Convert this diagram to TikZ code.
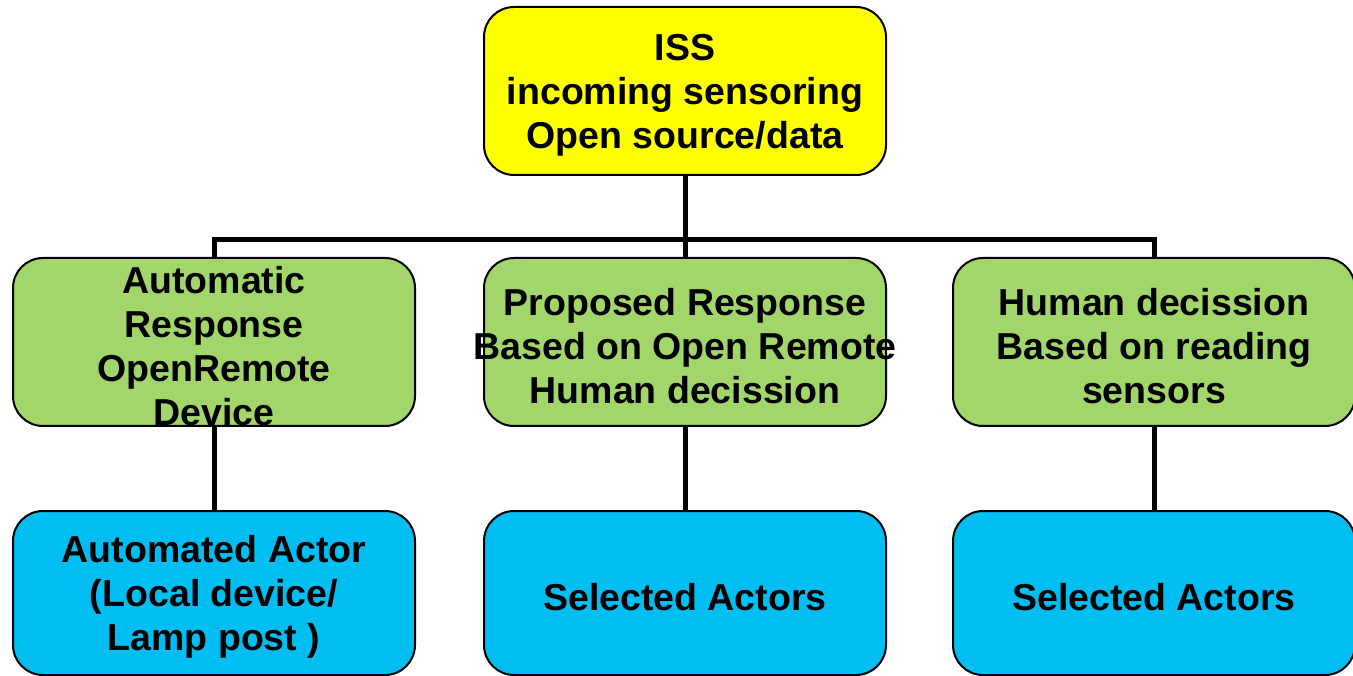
\documentclass[tikz,border=0pt]{standalone}
\usepackage{fontspec}
\setmainfont{Liberation Sans}
\definecolor{issyellow}{HTML}{FFFF00}
\definecolor{respgreen}{HTML}{A2D66A}
\definecolor{actorblue}{HTML}{00BEF2}
\begin{document}
\begin{tikzpicture}[x=1pt,y=-1pt,
    box/.style={draw,rounded corners=30pt,line width=2pt,minimum width=402pt,minimum height=168pt,inner sep=0pt},
    txt/.style={align=center,yshift=-4pt,font=\fontsize{37.5}{44}\selectfont\bfseries},
    conn/.style={line width=5pt}]
        \useasboundingbox (0,0) rectangle (1353,676);

        % boxes
        \node[box, fill=issyellow] at (685, 91) (iss) {};
        \node[box, fill=respgreen] at (214, 342) (auto) {};
        \node[box, fill=respgreen] at (685, 342) (prop) {};
        \node[box, fill=respgreen] at (1154, 342) (human) {};
        \node[box, fill=actorblue, minimum height=164pt] at (214, 593) (autoact) {};
        \node[box, fill=actorblue, minimum height=164pt] at (685, 593) (selA) {};
        \node[box, fill=actorblue, minimum height=164pt] at (1154, 593) (selB) {};

        % texts
        \node[txt] at (iss) (isst) {ISS\\incoming sensoring\\Open source/data};
        \node[txt] at (auto) (autot) {Automatic\\Response\\OpenRemote\\Device};
        \node[txt] at (prop) (propt) {Proposed Response\\Based on Open Remote\\Human decission};
        \node[txt] at (human) (humant) {Human decission\\Based on reading\\sensors};
        \node[txt] at (autoact) (autoactt) {Automated Actor\\(Local device/\\Lamp post )};
        \node[txt] at (selA) (selAt) {Selected Actors};
        \node[txt] at (selB) (selBt) {Selected Actors};

        % connectors
        \coordinate (barL) at (214, 240);
        \coordinate (barR) at (1154, 240);
        \draw[conn] (auto.north) -- (barL) -- (barR) -- (human.north);
        \path[conn]
            (iss) edge (prop)
            (auto) edge (autoact)
            (prop) edge (selA)
            (human) edge (selB)
            ;
\end{tikzpicture}
\end{document}
